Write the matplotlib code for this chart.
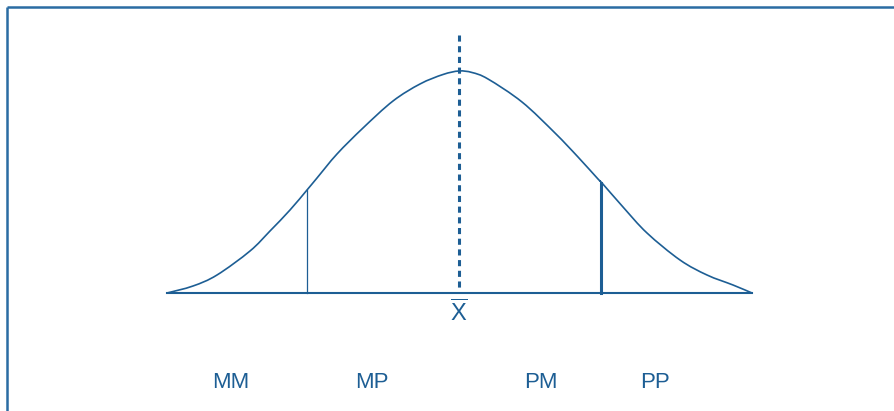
import matplotlib
matplotlib.use("Agg")
import matplotlib.pyplot as plt
from matplotlib.path import Path
from matplotlib.patches import PathPatch

plt.rcParams['font.family'] = ['Liberation Sans', 'DejaVu Sans']
plt.rcParams['mathtext.fontset'] = 'custom'
plt.rcParams['mathtext.rm'] = 'Liberation Sans'

# Curve (pixel-like coordinates, y downward)
curve_x = [167, 193, 217, 250, 270, 290, 307, 317, 337, 363, 393, 420, 443, 459,
           472, 488, 522, 555, 578, 598, 602, 623, 647, 680, 707, 733, 752]
curve_y = [293, 286, 275, 251, 231, 210, 190, 178, 154, 128, 101, 84, 74.5, 71,
           72.5, 79, 102, 133, 157, 179, 183, 207, 233, 260, 275, 285, 293]
baseline_y = 293
baseline_x = [167, 752]
mean_x = 459
mean_top = 35
left_cut = 307
right_cut = 601
mean_label = r'$\overline{\mathrm{X}}$'
group_labels = ['MM', 'MP', 'PM', 'PP']
group_x = [231, 372, 541, 655]
group_y = 382

color = '#1d5e94'

fig = plt.figure(figsize=(8.94, 4.11), dpi=100)
ax = fig.add_axes([0, 0, 1, 1])
ax.set_xlim(0, 894)
ax.set_ylim(411, 0)
ax.axis('off')

# frame (left and top)
ax.plot([7, 7], [7, 411], color='#2a6ca3', lw=1.8, solid_capstyle='butt')
ax.plot([7, 894], [7, 7], color='#2a6ca3', lw=1.8, solid_capstyle='butt')

# smooth curve through the read points (Catmull-Rom as cubic Bezier segments)
pts = list(zip(curve_x, curve_y))
verts = [pts[0]]
codes = [Path.MOVETO]
n = len(pts)
for i in range(n - 1):
    p0 = pts[i - 1] if i > 0 else pts[i]
    p1 = pts[i]
    p2 = pts[i + 1]
    p3 = pts[i + 2] if i + 2 < n else pts[i + 1]
    c1 = (p1[0] + (p2[0] - p0[0]) / 6, p1[1] + (p2[1] - p0[1]) / 6)
    c2 = (p2[0] - (p3[0] - p1[0]) / 6, p2[1] - (p3[1] - p1[1]) / 6)
    verts += [c1, c2, p2]
    codes += [Path.CURVE4] * 3
ax.add_patch(PathPatch(Path(verts, codes), facecolor='none', edgecolor=color, lw=1.2))

ax.plot(baseline_x, [baseline_y, baseline_y], color=color, lw=1.5)

# vertical lines
ax.plot([mean_x, mean_x], [mean_top, baseline_y], color=color, lw=2.2,
        linestyle=(0, (2, 1.5)))
ly = curve_y[curve_x.index(left_cut)]
ax.plot([left_cut, left_cut], [ly, baseline_y], color=color, lw=0.9)
ry = curve_y[curve_x.index(602)]
ax.plot([right_cut, right_cut], [ry, baseline_y], color=color, lw=2.2)

ax.text(mean_x, 313, mean_label, color=color, fontsize=17, ha='center', va='center')

for lab, x in zip(group_labels, group_x):
    ax.text(x, group_y, lab, color=color, fontsize=16, ha='center', va='center')

fig.savefig('out.png', dpi=100)
